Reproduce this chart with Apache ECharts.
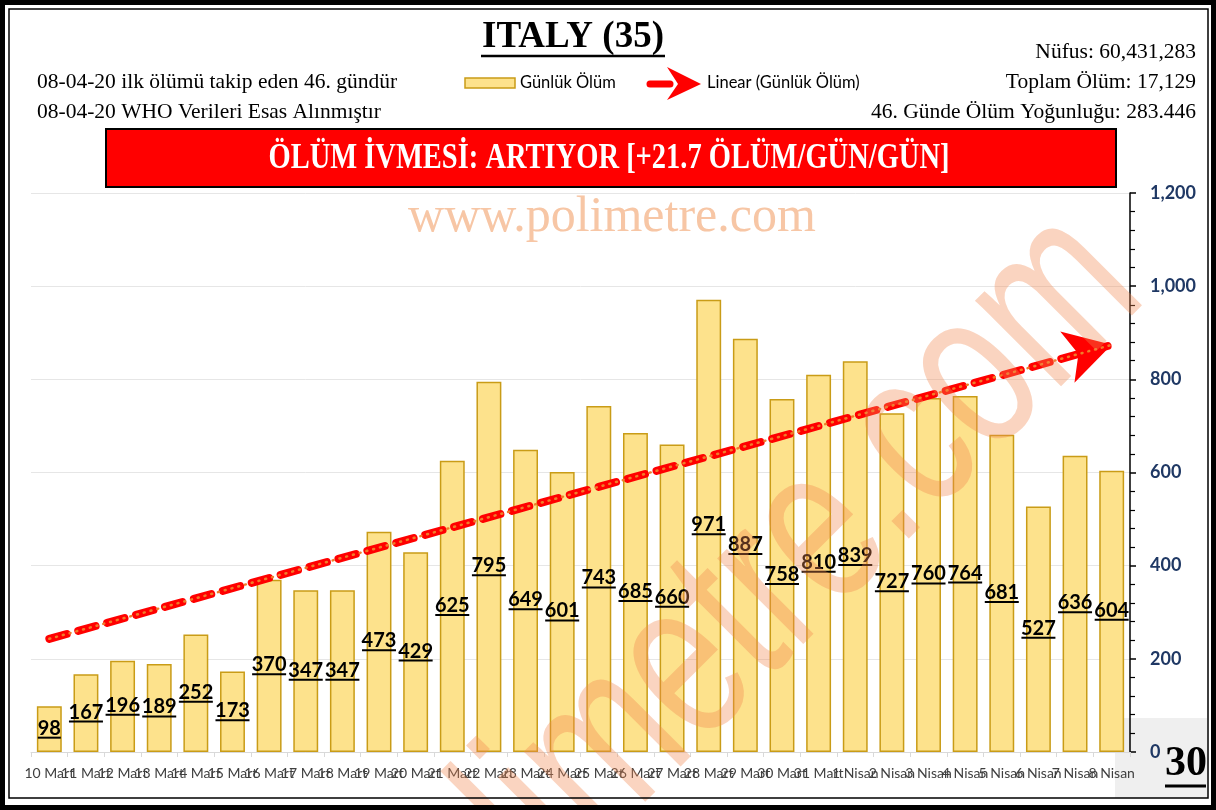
<!DOCTYPE html>
<html>
<head>
<meta charset="utf-8">
<script src="https://cdn.jsdelivr.net/npm/echarts@6/dist/echarts.min.js"></script>
<style>
html, body { margin: 0; padding: 0; background: #fff; }
#chart { width: 1216px; height: 810px; }
</style>
</head>
<body>
<div id="chart"></div>
<script>
// dates on the x axis
const days = [
  '10 Mart', '11 Mart', '12 Mart', '13 Mart', '14 Mart', '15 Mart', '16 Mart',
  '17 Mart', '18 Mart', '19 Mart', '20 Mart', '21 Mart', '22 Mart', '23 Mart',
  '24 Mart', '25 Mart', '26 Mart', '27 Mart', '28 Mart', '29 Mart', '30 Mart',
  '31 Mart', '1 Nisan', '2 Nisan', '3 Nisan', '4 Nisan', '5 Nisan', '6 Nisan',
  '7 Nisan', '8 Nisan'
]
// daily deaths (Günlük Ölüm)
const dailyDeaths = [
  98, 167, 196, 189, 252, 173, 370, 347, 347, 473, 429, 625, 795, 649, 601,
  743, 685, 660, 971, 887, 758, 810, 839, 727, 760, 764, 681, 527, 636, 604
]
// linear trend, value at first and last day
const trendEnds = [243, 874]
const yMax = 1200
const yStep = 200

const headerLeft = [
  '08-04-20 ilk ölümü takip eden 46. gündür',
  '08-04-20 WHO Verileri Esas Alınmıştır'
]
const headerRight = [
  'Nüfus: 60,431,283',
  'Toplam Ölüm: 17,129',
  '46. Günde Ölüm Yoğunluğu: 283.446'
]
const title = 'ITALY (35)'
const banner = 'ÖLÜM İVMESİ: ARTIYOR [+21.7 ÖLÜM/GÜN/GÜN]'
const pageNo = '30'

const barFill = '#fde28c'
const barBorder = '#c99c17'
const serif = '"Liberation Serif", "Times New Roman", serif'
const sans = 'Lato, "Liberation Sans", sans-serif'

const chart = echarts.init(document.getElementById('chart'))

const trendLine = (style, symbol) => ({
  silent: true,
  symbol: symbol,
  symbolSize: [40, 46],
  label: { show: false },
  lineStyle: style,
  data: [[
    { coord: [0, trendEnds[0]] },
    { coord: [days.length - 1, trendEnds[1]] }
  ]]
})

const option = {
  animation: false,
  grid: { left: 31, right: 86, top: 193, bottom: 58 },
  xAxis: {
    type: 'category',
    data: days,
    axisLine: { lineStyle: { color: '#d9d9d9' } },
    axisTick: { show: true, length: 5, lineStyle: { color: '#d9d9d9' } },
    axisLabel: {
      interval: 0,
      hideOverlap: false,
      color: '#404040',
      fontFamily: sans,
      fontSize: 14,
      margin: 14
    }
  },
  yAxis: {
    type: 'value',
    position: 'right',
    min: 0,
    max: yMax,
    interval: yStep,
    axisLine: { show: true, lineStyle: { color: '#000', width: 1.5 } },
    axisTick: { show: true, length: 6, lineStyle: { color: '#000', width: 1.5 } },
    minorTick: { show: true, splitNumber: 5, length: 5, lineStyle: { color: '#000', width: 1.2 } },
    splitLine: { lineStyle: { color: '#e6e6e6' } },
    axisLabel: {
      color: '#1f3864',
      fontFamily: sans,
      fontWeight: 'bold',
      fontSize: 18,
      margin: 20,
      formatter: v => v.toLocaleString('en-US')
    }
  },
  series: [
    {
      name: 'Günlük Ölüm',
      type: 'bar',
      data: dailyDeaths,
      barWidth: '68%',
      itemStyle: { color: barFill, borderColor: barBorder, borderWidth: 1.5 },
      label: {
        show: true,
        position: 'inside',
        formatter: p => `{v|${p.value}}\n{u${String(p.value).length}| }`,
        rich: {
          v: { fontFamily: sans, fontWeight: 'bold', fontSize: 20, color: '#000', lineHeight: 17 },
          u2: { width: 23, height: 2, fontSize: 1, lineHeight: 2, backgroundColor: '#000' },
          u3: { width: 34, height: 2, fontSize: 1, lineHeight: 2, backgroundColor: '#000' }
        }
      },
      markLine: trendLine(
        { color: '#ff0000', width: 8, type: [18, 12], cap: 'round' },
        ['none', 'arrow']
      ),
      z: 2
    },
    {
      name: 'Linear (Günlük Ölüm)',
      type: 'line',
      data: [],
      markLine: trendLine(
        { color: '#f07d2a', width: 2.5, type: [1, 6], cap: 'round' },
        ['none', 'none']
      ),
      z: 3
    }
  ],
  graphic: [
    // page frame
    { type: 'rect', z: -10, shape: { x: 1115, y: 718, width: 92, height: 80 }, style: { fill: '#efefef' } },
    { type: 'rect', z: 50, shape: { x: 2.5, y: 2.5, width: 1211, height: 805 }, style: { fill: 'none', stroke: '#000', lineWidth: 5 } },
    { type: 'rect', z: 50, shape: { x: 9, y: 9, width: 1199, height: 789 }, style: { fill: 'none', stroke: '#000', lineWidth: 1.5 } },
    // title
    { type: 'text', z: 50, style: { text: title, x: 573, y: 37, textAlign: 'center', textVerticalAlign: 'middle', font: `bold 37px ${serif}`, fill: '#000' } },
    { type: 'line', z: 50, shape: { x1: 481, y1: 56, x2: 665, y2: 56 }, style: { stroke: '#000', lineWidth: 2.5 } },
    // header texts
    ...headerLeft.map((t, i) => ({
      type: 'text', z: 50,
      style: { text: t, x: 37, y: 82 + i * 30, textVerticalAlign: 'middle', font: `21.5px ${serif}`, fill: '#000' }
    })),
    ...headerRight.map((t, i) => ({
      type: 'text', z: 50,
      style: { text: t, x: 1196, y: 52 + i * 30, textAlign: 'right', textVerticalAlign: 'middle', font: `21.5px ${serif}`, fill: '#000' }
    })),
    // legend
    { type: 'rect', z: 50, shape: { x: 465, y: 78, width: 50, height: 10 }, style: { fill: barFill, stroke: barBorder, lineWidth: 1.5 } },
    { type: 'text', z: 50, style: { text: 'Günlük Ölüm', x: 520, y: 83, textVerticalAlign: 'middle', font: `16.5px ${sans}`, fill: '#000' } },
    { type: 'line', z: 50, shape: { x1: 650, y1: 84, x2: 670, y2: 84 }, style: { stroke: '#ff0000', lineWidth: 7, lineCap: 'round' } },
    { type: 'polygon', z: 50, shape: { points: [[667, 67], [701, 84], [667, 100], [678, 84]] }, style: { fill: '#ff0000' } },
    { type: 'text', z: 50, style: { text: 'Linear (Günlük Ölüm)', x: 707, y: 83, textVerticalAlign: 'middle', font: `16.5px ${sans}`, fill: '#000' } },
    // banner
    { type: 'rect', z: 50, shape: { x: 106, y: 129, width: 1010, height: 58 }, style: { fill: '#ff0000', stroke: '#000', lineWidth: 2 } },
    { type: 'text', z: 51, x: 609, y: 159, scaleY: 1.22, style: { text: banner, x: 0, y: 0, textAlign: 'center', textVerticalAlign: 'middle', font: `bold 28.5px ${serif}`, fill: '#fff' } },
    // watermarks
    { type: 'text', z: 40, style: { text: 'www.polimetre.com', x: 612, y: 218, textAlign: 'center', textVerticalAlign: 'middle', font: `50px ${serif}`, fill: '#f7c6a5' } },
    { type: 'text', z: 40, x: 1186, y: 334, rotation: Math.PI / 4, scaleY: 1.4, style: { text: 'polimetre.com', x: 0, y: 0, textAlign: 'right', textVerticalAlign: 'bottom', font: `164px "Liberation Sans", sans-serif`, fill: 'rgba(240,135,80,0.36)' } },
    // page number
    { type: 'text', z: 50, style: { text: pageNo, x: 1186, y: 764, textAlign: 'center', textVerticalAlign: 'middle', font: `bold 42px ${serif}`, fill: '#000' } },
    { type: 'line', z: 50, shape: { x1: 1165, y1: 786, x2: 1206, y2: 786 }, style: { stroke: '#000', lineWidth: 3 } }
  ]
}

chart.setOption(option)
</script>
</body>
</html>
